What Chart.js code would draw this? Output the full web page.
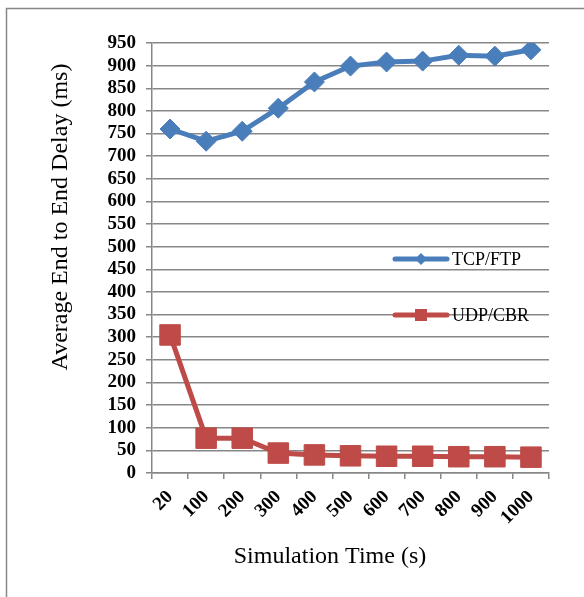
<!DOCTYPE html>
<html>
<head>
<meta charset="utf-8">
<script src="https://cdn.jsdelivr.net/npm/chart.js@4"></script>
<style>
  html, body { margin: 0; padding: 0; background: #fff; }
  #wrap { position: relative; width: 584px; height: 597px; }
</style>
</head>
<body>
<div id="wrap"><canvas id="delay_chart" width="584" height="597"></canvas></div>
<script>
const sim_times = ["20", "100", "200", "300", "400", "500", "600", "700", "800", "900", "1000"];
const tcp_ftp_delay = [760, 733, 755, 806, 864, 899, 908, 910, 923, 921, 935];
const udp_cbr_delay = [305, 77, 77, 44, 40, 38, 37, 37, 36, 36, 35];
const series_names = ["TCP/FTP", "UDP/CBR"];

const blue = "#4A7EBB";
const red = "#BE4B48";
const grid_grey = "#878787";
const serif = "'Liberation Serif', 'Times New Roman', serif";

const delay_canvas = document.getElementById("delay_chart");
const delay_context = delay_canvas.getContext("2d");

// frame, axis titles and the legend sitting over the plot
const decorations = {
    id: "decorations",
    beforeDraw(chart) {
        let ctx = chart.ctx;
        ctx.save();
        ctx.fillStyle = "#fff";
        ctx.fillRect(0, 0, chart.width, chart.height);
        ctx.strokeStyle = grid_grey;
        ctx.lineWidth = 1.5;
        ctx.beginPath();
        ctx.moveTo(6.5, chart.height);
        ctx.lineTo(6.5, 8.5);
        ctx.lineTo(chart.width, 8.5);
        ctx.stroke();
        ctx.restore();
    },
    afterDraw(chart) {
        let ctx = chart.ctx;
        ctx.save();
        ctx.fillStyle = "#000";
        ctx.font = "24px " + serif;
        ctx.textAlign = "center";
        ctx.textBaseline = "middle";
        ctx.fillText("Simulation Time (s)", 330, 557);
        ctx.translate(61, 217);
        ctx.rotate(-Math.PI / 2);
        ctx.fillText("Average End to End Delay (ms)", 0, 0);
        ctx.restore();

        let legend_rows = [
            { name: series_names[0], colour: blue, y: 259, marker: "diamond" },
            { name: series_names[1], colour: red, y: 315, marker: "square" }
        ];
        ctx.save();
        for (let row of legend_rows) {
            ctx.strokeStyle = row.colour;
            ctx.lineWidth = 5;
            ctx.lineCap = "round";
            ctx.beginPath();
            ctx.moveTo(395, row.y);
            ctx.lineTo(447, row.y);
            ctx.stroke();
            ctx.fillStyle = row.colour;
            ctx.beginPath();
            if (row.marker == "diamond") {
                ctx.moveTo(421 - 6, row.y);
                ctx.lineTo(421, row.y - 6);
                ctx.lineTo(421 + 6, row.y);
                ctx.lineTo(421, row.y + 6);
                ctx.closePath();
            } else {
                ctx.rect(415, row.y - 6, 12, 12);
            }
            ctx.fill();
            ctx.fillStyle = "#000";
            ctx.font = "18px " + serif;
            ctx.textAlign = "left";
            ctx.textBaseline = "middle";
            ctx.fillText(row.name, 452, row.y + 1);
        }
        ctx.restore();
    }
};

new Chart(delay_context, {
    type: "line",
    data: {
        labels: sim_times,
        datasets: [{
            label: series_names[0],
            data: tcp_ftp_delay,
            borderColor: blue,
            backgroundColor: blue,
            borderWidth: 5,
            pointStyle: "rectRot",
            pointRadius: 10,
            pointBorderWidth: 1,
            pointBorderColor: blue,
            tension: 0
        }, {
            label: series_names[1],
            data: udp_cbr_delay,
            borderColor: red,
            backgroundColor: red,
            borderWidth: 5,
            pointStyle: "rect",
            pointRadius: 14.5,
            pointBorderWidth: 1,
            pointBorderColor: red,
            tension: 0
        }]
    },
    options: {
        responsive: false,
        animation: false,
        devicePixelRatio: 1,
        layout: { padding: { left: 0, top: 43, right: 35, bottom: 0 } },
        plugins: {
            legend: { display: false },
            tooltip: { enabled: false }
        },
        scales: {
            x: {
                offset: true,
                grid: {
                    offset: true,
                    drawOnChartArea: false,
                    drawTicks: true,
                    tickLength: 6,
                    color: grid_grey,
                    lineWidth: 1.5
                },
                border: { color: grid_grey, width: 1.5 },
                ticks: {
                    color: "#000",
                    autoSkip: false,
                    minRotation: 45,
                    maxRotation: 45,
                    padding: 7,
                    font: { family: serif, size: 19, weight: "bold" }
                },
                afterFit(scale) { scale.height = 124; }
            },
            y: {
                min: 0,
                max: 950,
                grid: {
                    color: grid_grey,
                    lineWidth: 1.5,
                    tickLength: 6
                },
                border: { color: grid_grey, width: 1.5 },
                ticks: {
                    stepSize: 50,
                    autoSkip: false,
                    color: "#000",
                    padding: 10,
                    font: { family: serif, size: 19, weight: "bold" }
                },
                afterFit(scale) { scale.width = 152; }
            }
        }
    },
    plugins: [decorations]
});
</script>
</body>
</html>
